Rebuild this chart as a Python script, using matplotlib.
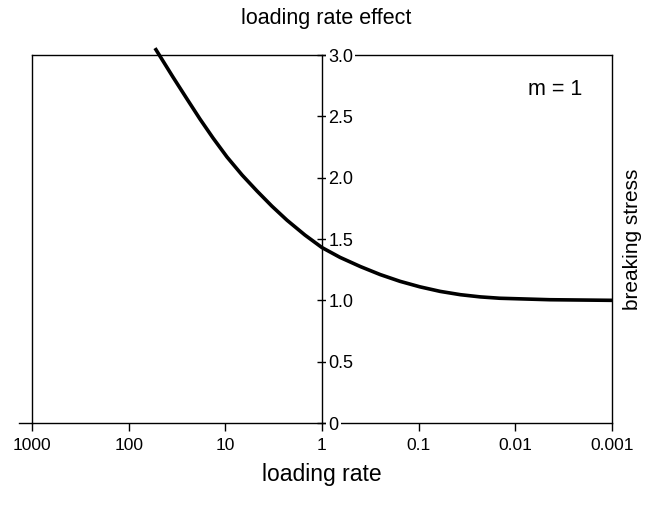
import matplotlib
matplotlib.use("Agg")
import matplotlib.pyplot as plt

plt.rcParams['font.family'] = ['Liberation Sans', 'DejaVu Sans']

# valores
loading_rate = [53.4, 34.8, 24.9, 18.3, 13.4, 9.6, 6.7, 4.7, 3.3, 2.3, 1.5,
                1.0, 0.65, 0.40, 0.25, 0.156, 0.097, 0.060, 0.037, 0.023,
                0.0145, 0.0044, 0.001]
breaking_stress = [3.056, 2.82, 2.641, 2.478, 2.323, 2.168, 2.021, 1.891,
                   1.768, 1.653, 1.532, 1.43, 1.35, 1.275, 1.21, 1.155, 1.11,
                   1.073, 1.046, 1.028, 1.017, 1.005, 1.0]

x_ticks = [1000, 100, 10, 1, 0.1, 0.01, 0.001]
x_tick_labels = ['1000', '100', '10', '1', '0.1', '0.01', '0.001']
y_ticks = [0, 0.5, 1.0, 1.5, 2.0, 2.5, 3.0]
y_tick_labels = ['0', '0.5', '1.0', '1.5', '2.0', '2.5', '3.0']

W, H = 659, 509
fig = plt.figure(figsize=(W / 100, H / 100), dpi=100)
ax = fig.add_axes([32 / W, 1 - 423 / H, 580 / W, 368 / H])

lw_frame = 1.0
ax.plot(loading_rate, breaking_stress, color='black', lw=2.6,
        clip_on=False, solid_capstyle='butt', zorder=3)

ax.set_xscale('log')
ax.set_xlim(1000, 0.001)
ax.set_ylim(0, 3)
ax.set_xticks(x_ticks)
ax.set_xticklabels(x_tick_labels)
ax.minorticks_off()
ax.set_yticks(y_ticks)

# eje y en el centro (x = 1), etiquetas a la derecha
ax.yaxis.tick_right()
ax.spines['right'].set_position(('data', 1))
ax.set_yticklabels(y_tick_labels)
for s in ax.spines.values():
    s.set_linewidth(lw_frame)
ax.set_axisbelow(False)  # ejes encima de los spines

ax.tick_params(axis='x', direction='out', length=6, width=lw_frame,
               labelsize=12.5, pad=5)
ax.tick_params(axis='y', direction='inout', length=7, width=lw_frame,
               labelsize=13, pad=1)
# fondo blanco para que las lineas se corten en "0" y "3.0"
for t in ax.yaxis.get_major_ticks():
    t.label2.set_bbox(dict(facecolor='white', edgecolor='none', pad=1.5))

# borde derecho de la caja y extension del eje x a la izquierda
ax.plot([1, 1], [0, 1], transform=ax.transAxes, color='black',
        lw=lw_frame, clip_on=False)
ax.plot([-0.022, 0], [0, 0], transform=ax.transAxes, color='black',
        lw=lw_frame, clip_on=False)

ax.text(0.902, 0.905, 'm = 1', transform=ax.transAxes, fontsize=15.5,
        ha='center', va='center')
ax.text(1.036, 0.5, 'breaking stress', transform=ax.transAxes, fontsize=15,
        rotation=90, ha='center', va='center')
ax.set_title('loading rate effect', fontsize=15.5, pad=22, x=0.507)
ax.set_xlabel('loading rate', fontsize=16.5, labelpad=7)

plt.savefig('out.png', dpi=100)
plt.close()
